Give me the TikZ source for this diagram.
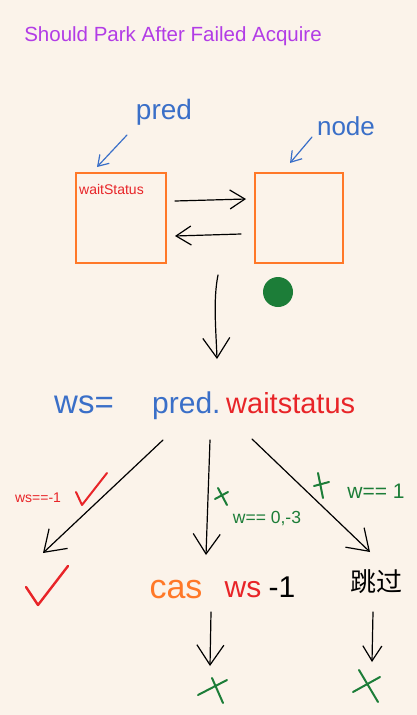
\documentclass[tikz,border=0pt]{standalone}
\usepackage{fontspec}
\setmainfont{Liberation Sans}
\newfontfamily\cjk{Noto Sans CJK SC}
\usetikzlibrary{arrows.meta,calc}
\definecolor{bg}{RGB}{251,243,234}
\definecolor{hblue}{RGB}{58,111,200}
\definecolor{hred}{RGB}{232,36,40}
\definecolor{horange}{RGB}{255,120,40}
\definecolor{hgreen}{RGB}{28,125,56}
\definecolor{hpurple}{RGB}{178,60,230}
\begin{document}
\begin{tikzpicture}[x=1pt,y=-1pt,
  txt/.style={inner sep=0pt,anchor=center},
  boxst/.style={draw=horange,line width=2pt,minimum width=90pt,minimum height=90pt,inner sep=0pt},
  conn/.style={line width=1.2pt,line cap=round},
  bigtip/.style={-{Straight Barb[length=20pt,width=27pt,line width=1.2pt]}},
  midtip/.style={-{Straight Barb[length=15pt,width=19pt,line width=1.2pt]}},
  smalltip/.style={-{Straight Barb[length=10pt,width=13pt,line width=1.2pt]}},
  penmark/.style={line width=2pt,line cap=round,line join=round}
]
\fill[bg] (0,0) rectangle (417,715);
\useasboundingbox (0,0) rectangle (417,715);

% title
\node[txt,text=hpurple,font=\fontsize{20.5}{22}\selectfont] (title) at (173,36) {Should Park After Failed Acquire};

% labels
\node[txt,text=hblue,font=\fontsize{28}{30}\selectfont] (predlbl) at (164,112) {pred};
\node[txt,text=hblue,font=\fontsize{26}{28}\selectfont] (nodelbl) at (346,126) {node};

% boxes
\node[boxst,minimum width=90pt] (predbox) at (121,218) {};
\node[boxst,minimum width=88pt] (nodebox) at (299,218) {};
\node[txt,text=hred,font=\fontsize{14}{15}\selectfont,anchor=west] (wslbl) at (79,189) {waitStatus};

% pointer arrows
\coordinate (pa1) at (127,135); \coordinate (pa2) at (97,167);
\coordinate (na1) at (312,137); \coordinate (na2) at (290,163);
\draw[conn,hblue,smalltip] (pa1) -- (pa2);
\draw[conn,hblue,smalltip] (na1) -- (na2);

% links between boxes
\draw[conn,midtip] ([xshift=8pt,yshift=17pt]predbox.east) -- ([xshift=-8pt,yshift=19pt]nodebox.west);
\draw[conn,midtip] ([xshift=-13pt,yshift=-16pt]nodebox.west) -- ([xshift=8pt,yshift=-18pt]predbox.east);

% green dot
\node[circle,fill=hgreen,minimum size=30pt,inner sep=0pt] (dot) at (278,292) {};

% big down arrow
\coordinate (d1) at (218,275);
\node[txt,text=hblue,font=\fontsize{33}{35}\selectfont,anchor=base west] (ws) at (54,413) {ws=};
\node[txt,text=hblue,font=\fontsize{30}{32}\selectfont,anchor=base west] (pred) at (152,413) {pred.};
\node[txt,text=hred,font=\fontsize{29}{31}\selectfont,anchor=base west] (wstat) at (226,413) {waitstatus};
\coordinate (d2) at (217,359);
\draw[conn,bigtip] (d1) .. controls (213,300) and (216,330) .. (d2);

% fan
\coordinate (f1) at (163,440);
\coordinate (f2) at (210,440);
\coordinate (f3) at (252,439);
\node[txt,text=horange,font=\fontsize{34}{36}\selectfont,anchor=base] (cas) at (176,598) {cas};
\node[txt,text=hred,font=\fontsize{30}{32}\selectfont,anchor=base] (csws) at (243,597) {ws};
\node[txt,font=\fontsize{30}{32}\selectfont,anchor=base] (minus) at (282,597) {-1};
\node[txt,font=\cjk\fontsize{26}{28}\selectfont] (skip) at (376,582) {跳过};
\coordinate (l2) at (43,553);
\coordinate (m2) at (206,555);
\coordinate (r2) at (370,552);
\draw[conn,bigtip] (f1) -- (l2);
\draw[conn,bigtip] (f2) -- (m2);
\draw[conn,bigtip] (f3) -- (r2);

% branch labels
\node[txt,text=hred,font=\fontsize{14}{15}\selectfont] (lcond) at (38,498) {ws==-1};
\draw[penmark,hred] (76,492) -- (82,505) -- (107,473);
\draw[penmark,hgreen] (218,488) -- (227,505) (215,499) -- (228,492);
\node[txt,text=hgreen,font=\fontsize{17.5}{19}\selectfont] (mcond) at (267,519) {w== 0,-3};
\draw[penmark,hgreen] (318,473) -- (323,498) (314,486) -- (329,482);
\node[txt,text=hgreen,font=\fontsize{21}{22}\selectfont] (rcond) at (376,491) {w== 1};

% result marks
\draw[penmark,hred,line width=2.4pt] (26,587) -- (38,605) -- (68,566);

% bottom arrows
\coordinate (b1) at (211,612); \coordinate (b2) at (210,666);
\coordinate (c1) at (373,612); \coordinate (c2) at (372,662);
\draw[conn,bigtip] (b1) -- (b2);
\draw[conn,midtip] (c1) -- (c2);
\draw[penmark,hgreen] (198,695) -- (227,680) (212,678) -- (223,703);
\draw[penmark,hgreen] (353,692) -- (380,677) (359,670) -- (378,702);
\end{tikzpicture}
\end{document}
